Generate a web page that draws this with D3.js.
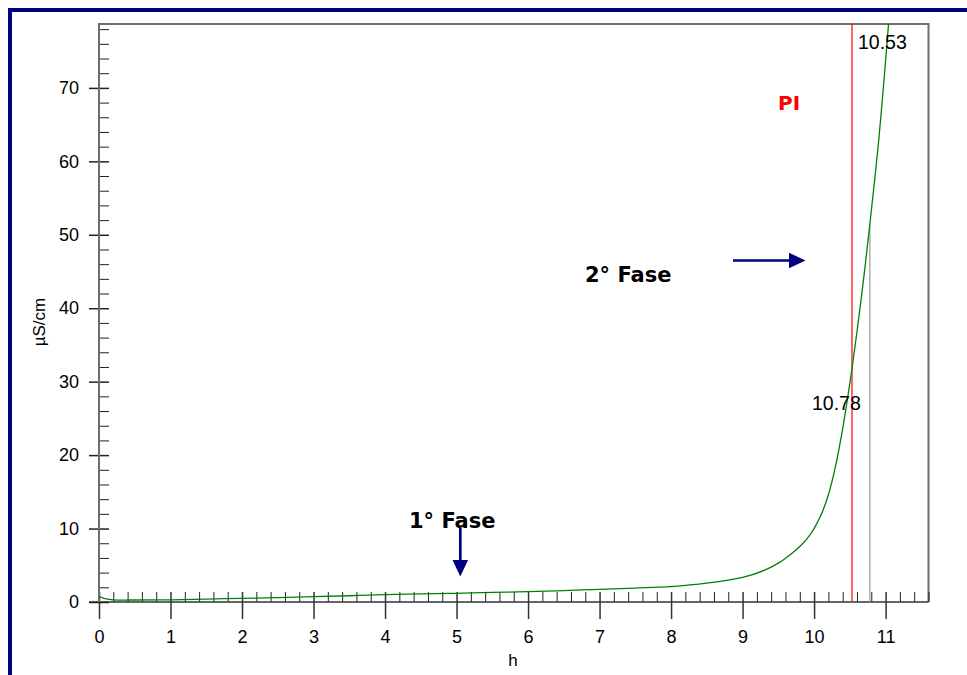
<!DOCTYPE html>
<html>
<head>
<meta charset="utf-8">
<script src="https://cdn.jsdelivr.net/npm/d3@7"></script>
<style>
  html, body { margin: 0; padding: 0; background: #fff; }
  svg { display: block; }
</style>
</head>
<body>
<svg id="chart" width="967" height="675"></svg>
<script>
// ---- data ----
const hours = [0, 0.1, 0.2, 0.5, 1, 1.5, 2, 2.5, 3, 3.5, 4, 4.5, 5, 5.5, 6, 6.5, 7, 7.5, 8, 8.5, 9, 9.3, 9.5, 9.6, 9.7, 9.8, 9.9, 10.0, 10.1, 10.2, 10.3, 10.4, 10.5, 10.53, 10.6, 10.7, 10.78, 10.9, 11.0, 11.1];
const conductivity = [0.75, 0.42, 0.3, 0.27, 0.3, 0.4, 0.5, 0.6, 0.72, 0.85, 1.0, 1.1, 1.18, 1.3, 1.4, 1.55, 1.73, 1.9, 2.1, 2.56, 3.35, 4.3, 5.3, 5.95, 6.7, 7.55, 8.6, 10.0, 11.9, 14.6, 18.5, 23.6, 29.8, 31.8, 36.8, 44.6, 51.5, 62.5, 73.7, 86.0];
const xMajorTicks = [0, 1, 2, 3, 4, 5, 6, 7, 8, 9, 10, 11];
const yMajorTicks = [0, 10, 20, 30, 40, 50, 60, 70];
const markerLines = [10.53, 10.78];
const markerLabels = ["10.53", "10.78"];
const markerLevel = 51.5; // where the grey line meets the curve
const phaseLabels = ["1° Fase", "2° Fase"];
const piLabel = "PI";
const xTitle = "h";
const yTitle = "µS/cm";
const xMax = 11.6, yMax = 78.7;

// ---- layout ----
const svg = d3.select("#chart");
const L = 99, R = 928.5, T = 24, B = 602;
const x = d3.scaleLinear().domain([0, xMax]).range([L, R]);
const y = d3.scaleLinear().domain([0, yMax]).range([B, T]);
const navy = "#000080";
const font = "'Liberation Sans', Arial, sans-serif";
const boldFont = "'DejaVu Sans', Verdana, sans-serif";

// outer navy frame
svg.append("rect").attr("x", 10).attr("y", 10).attr("width", 1200).attr("height", 1200)
  .attr("fill", "none").attr("stroke", navy).attr("stroke-width", 4);

// plot frame (top and right)
svg.append("line").attr("x1", L).attr("x2", R + 1).attr("y1", T).attr("y2", T).attr("stroke", "#6e6e6e").attr("stroke-width", 2);
svg.append("line").attr("x1", R).attr("x2", R).attr("y1", T).attr("y2", B).attr("stroke", "#6e6e6e").attr("stroke-width", 2);

// x axis
const xMinor = d3.range(0, Math.round(xMax / 0.2) + 1).map(i => +(i * 0.2).toFixed(1)).filter(v => v <= xMax && !xMajorTicks.includes(v));
const xAxisMinor = d3.axisBottom(x).tickValues(xMinor).tickSizeInner(-10).tickSizeOuter(0).tickFormat("");
const gxm = svg.append("g").attr("transform", `translate(0,${B})`).call(xAxisMinor);
gxm.select(".domain").remove();
gxm.selectAll(".tick line").attr("stroke", "#222").attr("stroke-width", 1);

const xAxis = d3.axisBottom(x).tickValues(xMajorTicks).tickSizeInner(17).tickSizeOuter(0).tickPadding(11).tickFormat(d3.format("d"));
const gx = svg.append("g").attr("transform", `translate(0,${B})`).call(xAxis);
gx.select(".domain").remove();
gx.selectAll(".tick line").attr("y1", -10).attr("stroke", "#333").attr("stroke-width", 1.5);
gx.selectAll(".tick text").attr("font-family", font).attr("font-size", 18).attr("fill", "#000");

svg.append("line").attr("x1", 89).attr("x2", R).attr("y1", B).attr("y2", B).attr("stroke", "#333").attr("stroke-width", 1.5);

// y axis
const yMinor = d3.range(0, Math.floor(yMax / 2) + 1).map(i => i * 2).filter(v => v % 10 !== 0);
const yAxisMinor = d3.axisLeft(y).tickValues(yMinor).tickSizeInner(-10).tickSizeOuter(0).tickFormat("");
const gym = svg.append("g").attr("transform", `translate(${L},0)`).call(yAxisMinor);
gym.select(".domain").remove();
gym.selectAll(".tick line").attr("stroke", "#222").attr("stroke-width", 1);

const yAxis = d3.axisLeft(y).tickValues(yMajorTicks).tickSizeInner(10).tickSizeOuter(0).tickPadding(10).tickFormat(d3.format("d"));
const gy = svg.append("g").attr("transform", `translate(${L},0)`).call(yAxis);
gy.select(".domain").remove();
gy.selectAll(".tick line").attr("x2", -10).attr("x1", 10).attr("stroke", "#222").attr("stroke-width", 1.5);
gy.selectAll(".tick text").attr("font-family", font).attr("font-size", 18).attr("fill", "#000");

svg.append("line").attr("x1", L).attr("x2", L).attr("y1", T - 1).attr("y2", B).attr("stroke", "#6e6e6e").attr("stroke-width", 2);

// axis titles
svg.append("text").attr("x", 513).attr("y", 666).attr("text-anchor", "middle")
  .attr("font-family", font).attr("font-size", 17).text(xTitle);
svg.append("text").attr("transform", "translate(45,322) rotate(-90)").attr("text-anchor", "middle")
  .attr("font-family", font).attr("font-size", 17).text(yTitle);

// clip
svg.append("clipPath").attr("id", "plotclip").append("rect")
  .attr("x", L).attr("y", T).attr("width", R - L).attr("height", B - T);

// marker vertical lines
svg.append("line").attr("x1", x(markerLines[0])).attr("x2", x(markerLines[0]))
  .attr("y1", T).attr("y2", B).attr("stroke", "#ff0000").attr("stroke-width", 1.2);
svg.append("line").attr("x1", x(markerLines[1])).attr("x2", x(markerLines[1]))
  .attr("y1", y(markerLevel)).attr("y2", B).attr("stroke", "#999").attr("stroke-width", 1.2);

// curve
const pts = hours.map((h, i) => [h, conductivity[i]]);
svg.append("path").attr("clip-path", "url(#plotclip)")
  .datum(pts)
  .attr("fill", "none").attr("stroke", "#008000").attr("stroke-width", 1.3)
  .attr("d", d3.line().x(d => x(d[0])).y(d => y(d[1])).curve(d3.curveCatmullRom.alpha(0.5)));

// marker labels
svg.append("text").attr("x", x(markerLines[0]) + 6).attr("y", 49).attr("font-family", font)
  .attr("font-size", 19.5).attr("fill", "#000").text(markerLabels[0]);
svg.append("text").attr("x", 812).attr("y", 410).attr("font-family", font)
  .attr("font-size", 19.5).attr("fill", "#000").text(markerLabels[1]);

// PI label
svg.append("text").attr("x", 778).attr("y", 110).attr("font-family", boldFont).attr("font-weight", "bold")
  .attr("font-size", 20).attr("fill", "#ff0000").text(piLabel);

// phase labels
svg.append("text").attr("x", 409).attr("y", 528).attr("font-family", boldFont).attr("font-weight", "bold")
  .attr("font-size", 21).attr("fill", "#000").text(phaseLabels[0]);
svg.append("text").attr("x", 585).attr("y", 282).attr("font-family", boldFont).attr("font-weight", "bold")
  .attr("font-size", 21).attr("fill", "#000").text(phaseLabels[1]);

// arrows
// down arrow (1° Fase)
svg.append("line").attr("x1", 460.3).attr("x2", 460.3).attr("y1", 528).attr("y2", 562)
  .attr("stroke", navy).attr("stroke-width", 2.7);
svg.append("path").attr("d", "M452.5,560 L468.1,560 L460.3,576.5 Z").attr("fill", navy);
// right arrow (2° Fase)
svg.append("line").attr("x1", 733).attr("x2", 791).attr("y1", 260.5).attr("y2", 260.5)
  .attr("stroke", navy).attr("stroke-width", 2.7);
svg.append("path").attr("d", "M789,252.7 L789,268.3 L805.5,260.5 Z").attr("fill", navy);
</script>
</body>
</html>
